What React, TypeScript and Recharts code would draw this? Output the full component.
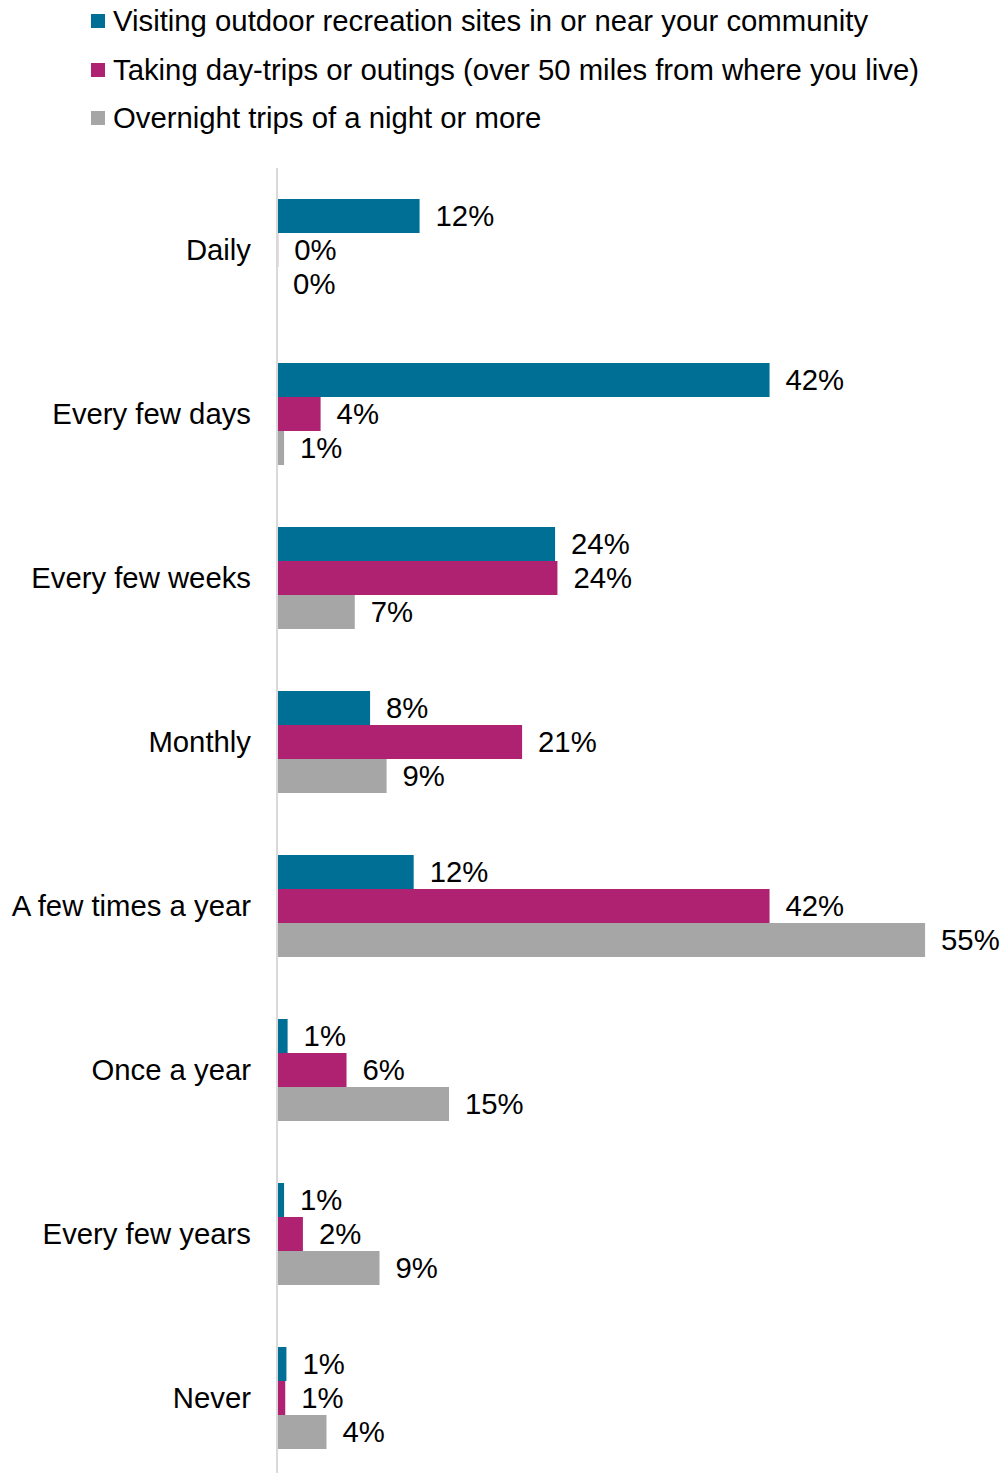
import React from 'react';
import { BarChart, Bar, XAxis, YAxis, LabelList } from 'recharts';

const categories = [
  'Daily',
  'Every few days',
  'Every few weeks',
  'Monthly',
  'A few times a year',
  'Once a year',
  'Every few years',
  'Never',
];
const local = [12.1, 41.8, 23.6, 7.9, 11.6, 0.9, 0.6, 0.8];
const dayTrips = [0.1, 3.7, 23.8, 20.8, 41.8, 5.9, 2.2, 0.7];
const overnight = [0.01, 0.6, 6.6, 9.3, 55, 14.6, 8.7, 4.2];

const seriesNames = [
  'Visiting outdoor recreation sites in or near your community',
  'Taking day-trips or outings (over 50 miles from where you live)',
  'Overnight trips of a night or more',
];
const colors = ['#006F96', '#AE2271', '#A6A6A6'];

const data = categories.map((name, i) => ({
  name,
  local: local[i],
  dayTrips: dayTrips[i],
  overnight: overnight[i],
}));

const FONT = '"Liberation Sans", Arial, sans-serif';
const SIZE = 29.3;
const pct = (v: any) => `${Math.round(Number(v))}%`;

export default function App() {
  const keys = ['local', 'dayTrips', 'overnight'];
  return (
    <div style={{ position: 'absolute', left: 0, top: 0, width: 1002, height: 1473, overflow: 'hidden', background: '#fff', fontFamily: FONT }}>
      <div style={{ position: 'absolute', left: 91, top: 0 }}>
        {seriesNames.map((s, i) => (
          <div key={s} style={{ position: 'absolute', top: 21 + i * 48.5 - 17, left: 0, height: 34, display: 'flex', alignItems: 'center', whiteSpace: 'nowrap', fontSize: SIZE, color: '#000' }}>
            <span style={{ width: 14, height: 14, background: colors[i], display: 'inline-block', marginRight: 8 }} />
            {s}
          </div>
        ))}
      </div>
      <BarChart
        width={1002}
        height={1480}
        data={data}
        layout="vertical"
        margin={{ top: 168, right: 18, bottom: 0, left: 0 }}
        barSize={34}
        barGap={0}
      >
        <XAxis type="number" domain={[0, 60]} hide />
        <YAxis
          type="category"
          dataKey="name"
          width={277}
          tickLine={false}
          tickSize={0}
          tickMargin={26}
          axisLine={{ stroke: '#D9D9D9', strokeWidth: 2 }}
          tick={{ fontSize: SIZE, fill: '#000', fontFamily: FONT }}
          interval={0}
        />
        {keys.map((k, i) => (
          <Bar key={k} dataKey={k} fill={colors[i]} isAnimationActive={false}>
            <LabelList
              dataKey={k}
              position="right"
              offset={16}
              formatter={pct}
              style={{ fontSize: SIZE, fill: '#000', fontFamily: FONT }}
            />
          </Bar>
        ))}
      </BarChart>
    </div>
  );
}
